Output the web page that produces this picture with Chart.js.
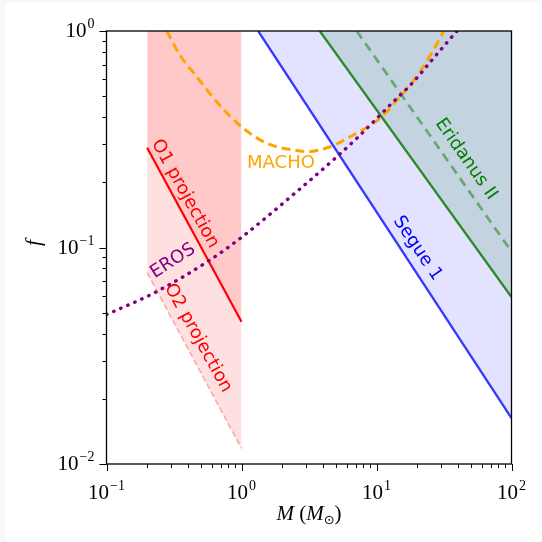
<!DOCTYPE html>
<html>
<head>
<meta charset="utf-8">
<script src="https://cdn.jsdelivr.net/npm/chart.js@4"></script>
<style>
  html, body { margin: 0; padding: 0; background: #f8f8f8; }
  canvas { display: block; }
</style>
</head>
<body>
<canvas id="boundsChart" width="542" height="542"></canvas>
<script>
// mass in solar masses, f = fraction of dark matter
const o1Mass = [0.2, 1.0];
const o1Frac = [0.289, 0.0454];
const o2Mass = [0.2, 1.0];
const o2Frac = [0.0765, 0.0118];
const machoMass = [0.279, 0.35, 0.466, 0.655, 1.0, 1.54, 2.71, 3.04, 4.53, 6.73, 10.6, 14.9, 21, 29.5, 31.5];
const machoFrac = [1.0, 0.774, 0.615, 0.471, 0.361, 0.303, 0.279, 0.277, 0.292, 0.331, 0.395, 0.497, 0.649, 0.925, 1.0];
const erosMass = [0.1, 0.222, 0.585, 1.03, 2.56, 4.79, 7.13, 12.6, 18.8, 26.4, 38.1, 39.5];
const erosFrac = [0.049, 0.0614, 0.0876, 0.113, 0.181, 0.254, 0.319, 0.455, 0.583, 0.748, 0.975, 1.0];
const segueMass = [1.33, 100];
const segueFrac = [1.0, 0.0163];
const eriMass = [3.8, 100];
const eriFrac = [1.0, 0.059];
const eriDashMass = [7.13, 100];
const eriDashFrac = [1.0, 0.0957];

const xTickExps = [-1, 0, 1, 2];
const yTickExps = [-2, -1, 0];

// curve labels: text, anchor (M, f), rotation in degrees
const curveLabels = [
  { text: 'MACHO', m: 1.96, f: 0.246, rot: 0, color: 'orange' },
  { text: 'EROS', m: 0.311, f: 0.0866, rot: -33, color: 'purple' },
  { text: 'O1 projection', m: 0.381, f: 0.177, rot: 61, color: 'red' },
  { text: 'O2 projection', m: 0.476, f: 0.0382, rot: 61, color: 'red' },
  { text: 'Segue 1', m: 20.1, f: 0.099, rot: 56, color: 'blue' },
  { text: 'Eridanus II', m: 46, f: 0.256, rot: 55, color: 'green' }
];

function pts(ms, fs) {
  return ms.map((m, i) => ({ x: m, y: fs[i] }));
}

const axesPlugin = {
  id: 'axesPlugin',
  beforeDraw(chart) {
    const ctx = chart.ctx;
    ctx.save();
    ctx.fillStyle = '#ffffff';
    ctx.fillRect(5, 3, chart.width - 5, chart.height - 3);
    ctx.restore();
  },
  afterDatasetsDraw(chart) {
    const { ctx, scales: { x, y } } = chart;
    ctx.save();
    ctx.font = '18px "DejaVu Sans"';
    ctx.textAlign = 'center';
    ctx.textBaseline = 'middle';
    curveLabels.forEach(l => {
      ctx.save();
      ctx.translate(x.getPixelForValue(l.m), y.getPixelForValue(l.f));
      ctx.rotate(l.rot * Math.PI / 180);
      ctx.fillStyle = l.color;
      ctx.fillText(l.text, 0, 0);
      ctx.restore();
    });
    ctx.restore();
  },
  afterDraw(chart) {
    const { ctx, chartArea: a, scales: { x, y } } = chart;
    ctx.save();
    ctx.strokeStyle = '#000';
    ctx.lineWidth = 1.3;
    ctx.strokeRect(a.left, a.top, a.right - a.left, a.bottom - a.top);

    ctx.lineWidth = 1;
    ctx.beginPath();
    for (let e = -1; e <= 2; e++) {
      for (let k = 1; k <= 9; k++) {
        const v = k * Math.pow(10, e);
        if (v > 100.0001) break;
        const px = Math.round(x.getPixelForValue(v)) + 0.5;
        const len = k === 1 ? 7 : 4;
        ctx.moveTo(px, a.bottom);
        ctx.lineTo(px, a.bottom + len);
      }
    }
    for (let e = -2; e <= 0; e++) {
      for (let k = 1; k <= 9; k++) {
        const v = k * Math.pow(10, e);
        if (v > 1.0001) break;
        const py = Math.round(y.getPixelForValue(v)) + 0.5;
        const len = k === 1 ? 7 : 4;
        ctx.moveTo(a.left, py);
        ctx.lineTo(a.left - len, py);
      }
    }
    ctx.stroke();

    const baseFont = '21px "Liberation Serif"';
    const expFont = '14px "Liberation Serif"';
    ctx.fillStyle = '#000';
    ctx.textBaseline = 'alphabetic';
    ctx.textAlign = 'left';
    function drawPow(exp, cx, baseY, align) {
      const expTxt = String(exp).replace('-', '\u2212');
      ctx.font = baseFont;
      const wb = ctx.measureText('10').width;
      ctx.font = expFont;
      const we = ctx.measureText(expTxt).width;
      const w = wb + we + 1;
      const left = align === 'center' ? cx - w / 2 : cx - w;
      ctx.font = baseFont;
      ctx.fillText('10', left, baseY);
      ctx.font = expFont;
      ctx.fillText(expTxt, left + wb + 1, baseY - 9);
    }
    xTickExps.forEach(e => drawPow(e, x.getPixelForValue(Math.pow(10, e)), 499, 'center'));
    yTickExps.forEach(e => drawPow(e, a.left - 12, y.getPixelForValue(Math.pow(10, e)) + 6, 'right'));

    // axis titles
    ctx.save();
    ctx.translate(34, 243);
    ctx.rotate(-Math.PI / 2);
    ctx.font = 'italic 22px "Liberation Serif"';
    ctx.textAlign = 'center';
    ctx.fillText('f', 0, 6);
    ctx.restore();

    const parts = [
      { t: 'M', f: 'italic 21px "Liberation Serif"', dy: 0 },
      { t: ' (', f: '21px "Liberation Serif"', dy: 0 },
      { t: 'M', f: 'italic 21px "Liberation Serif"', dy: 0 },
      { t: '\u2299', f: '13px "DejaVu Sans"', dy: 4 },
      { t: ')', f: '21px "Liberation Serif"', dy: 0 }
    ];
    let total = 0;
    parts.forEach(p => { ctx.font = p.f; p.w = ctx.measureText(p.t).width; total += p.w; });
    let cx = (a.left + a.right) / 2 - total / 2;
    parts.forEach(p => {
      ctx.font = p.f;
      ctx.fillText(p.t, cx, 520 + p.dy);
      cx += p.w;
    });
    ctx.restore();
  }
};

const ctx = document.getElementById('boundsChart').getContext('2d');

const boundsChart = new Chart(ctx, {
  type: 'line',
  data: {
    datasets: [
      {
        label: 'Segue 1',
        data: pts(segueMass, segueFrac),
        borderColor: 'rgb(55,55,255)',
        borderWidth: 2.3,
        backgroundColor: 'rgba(0,0,255,0.11)',
        fill: 'end',
        order: 5
      },
      {
        label: 'Eridanus II',
        data: pts(eriMass, eriFrac),
        borderColor: '#2a8a2a',
        borderWidth: 2.3,
        backgroundColor: 'rgba(0,115,30,0.14)',
        fill: 'end',
        order: 4
      },
      {
        label: 'Eridanus II (dashed)',
        data: pts(eriDashMass, eriDashFrac),
        borderColor: 'rgba(42,138,42,0.6)',
        borderWidth: 2.7,
        borderDash: [9, 6],
        fill: false,
        order: 3
      },
      {
        label: 'O2 projection',
        data: pts(o2Mass, o2Frac),
        borderColor: 'rgba(255,80,80,0.45)',
        borderWidth: 1.6,
        borderDash: [6, 3],
        backgroundColor: 'rgba(255,0,0,0.12)',
        fill: 'end',
        order: 6
      },
      {
        label: 'O1 projection',
        data: pts(o1Mass, o1Frac),
        borderColor: 'red',
        borderWidth: 2.2,
        backgroundColor: 'rgba(255,0,0,0.1)',
        fill: 'end',
        order: 2
      },
      {
        label: 'MACHO',
        data: pts(machoMass, machoFrac),
        borderColor: 'orange',
        borderWidth: 3,
        borderDash: [9, 5],
        cubicInterpolationMode: 'monotone',
        fill: false,
        order: 1
      },
      {
        label: 'EROS',
        data: pts(erosMass, erosFrac),
        borderColor: 'purple',
        borderWidth: 3.4,
        borderDash: [0.5, 7.2],
        borderCapStyle: 'round',
        cubicInterpolationMode: 'monotone',
        fill: false,
        order: 0
      }
    ]
  },
  options: {
    responsive: false,
    animation: false,
    devicePixelRatio: 1,
    layout: {
      padding: { left: 106.5, top: 31, right: 30.5, bottom: 78 }
    },
    elements: {
      point: { radius: 0, hoverRadius: 0 },
      line: { borderJoinStyle: 'round' }
    },
    scales: {
      x: { type: 'logarithmic', min: 0.1, max: 100, display: false },
      y: { type: 'logarithmic', min: 0.01, max: 1, display: false }
    },
    plugins: {
      legend: { display: false },
      tooltip: { enabled: false },
      filler: { drawTime: 'beforeDatasetsDraw' }
    }
  },
  plugins: [axesPlugin]
});
</script>
</body>
</html>
